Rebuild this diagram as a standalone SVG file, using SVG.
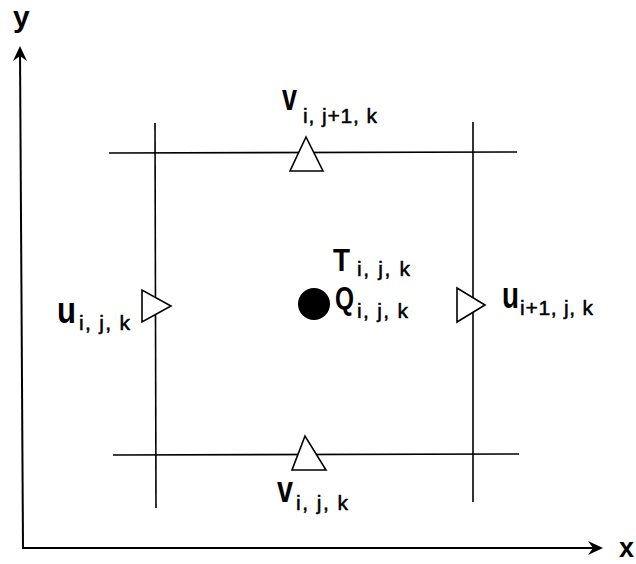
<svg xmlns="http://www.w3.org/2000/svg" width="636" height="564" viewBox="0 0 636 564">
<style>
.ln{stroke:#000;stroke-width:1.6;fill:none}
.ax{stroke:#000;stroke-width:2;fill:none}
.tri{fill:#fff;stroke:#000;stroke-width:1.6;stroke-linejoin:miter}
.m{font-family:"Liberation Sans",Arial,sans-serif;font-weight:bold;font-size:36px;fill:#000}
.c{font-family:"Liberation Sans",Arial,sans-serif;font-weight:bold;font-size:32px;fill:#000}
.s{font-family:"Liberation Sans",Arial,sans-serif;font-size:21px;fill:#000;stroke:#000;stroke-width:0.5}
.a{font-family:"Liberation Sans",Arial,sans-serif;font-weight:bold;font-size:30px;fill:#000}
</style>
<rect width="636" height="564" fill="#fff"/>
<g id="connectors">
  <line class="ax" x1="20" y1="50" x2="23" y2="548"/>
  <line class="ax" x1="22" y1="548" x2="598" y2="548"/>
  <path d="M13,61 L20,46 L27,61 L20,56 Z" fill="#000"/>
  <path d="M588,541 L603,548 L588,555 L593,548 Z" fill="#000"/>
  <line class="ln" x1="155" y1="123" x2="156" y2="508"/>
  <line class="ln" x1="473" y1="122" x2="473" y2="502"/>
  <line class="ln" x1="109" y1="153" x2="517" y2="152"/>
  <line class="ln" x1="113" y1="455" x2="519" y2="454"/>
</g>
<g id="axis-y"><text class="a" x="13" y="27">y</text></g>
<g id="axis-x"><text class="a" x="619" y="557" style="font-size:27px">x</text></g>
<g id="v-top">
  <polygon class="tri" points="306,137 290,171 323,171"/>
  <text class="m" x="282" y="110" textLength="15" lengthAdjust="spacingAndGlyphs">v</text>
  <text class="s" x="303" y="123" textLength="74" lengthAdjust="spacing">i, j+1, k</text>
</g>
<g id="v-bottom">
  <polygon class="tri" points="305,436 292,470 326,470"/>
  <text class="m" x="277" y="502" textLength="16" lengthAdjust="spacingAndGlyphs">v</text>
  <text class="s" x="296" y="510" textLength="52" lengthAdjust="spacing">i, j, k</text>
</g>
<g id="u-left">
  <polygon class="tri" points="142,290 142,322 171,306"/>
  <text class="m" x="57" y="323" textLength="19" lengthAdjust="spacingAndGlyphs">u</text>
  <text class="s" x="79" y="330" textLength="51" lengthAdjust="spacing">i, j, k</text>
</g>
<g id="u-right">
  <polygon class="tri" points="457,288 457,322 485,305"/>
  <text class="m" x="502" y="308" textLength="17" lengthAdjust="spacingAndGlyphs">u</text>
  <text class="s" x="520" y="315" textLength="73" lengthAdjust="spacing">i+1, j, k</text>
</g>
<g id="center">
  <circle cx="314" cy="304" r="16" fill="#000"/>
  <text class="c" x="333" y="271" textLength="17" lengthAdjust="spacingAndGlyphs">T</text>
  <text class="s" x="357" y="276" textLength="53" lengthAdjust="spacing">i, j, k</text>
  <text class="c" x="335" y="309" textLength="19" lengthAdjust="spacingAndGlyphs">Q</text>
  <text class="s" x="357" y="318" textLength="51" lengthAdjust="spacing">i, j, k</text>
</g>
</svg>
